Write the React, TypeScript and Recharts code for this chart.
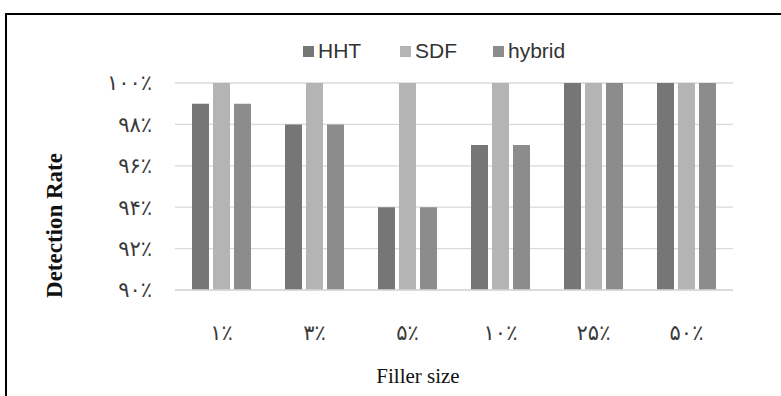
import React from 'react';
import { BarChart, Bar, XAxis, YAxis, CartesianGrid, Legend, Label } from 'recharts';

// Filler size categories (Persian numerals)
const categories = ['۱٪', '۳٪', '۵٪', '۱۰٪', '۲۵٪', '۵۰٪'];

// Detection rate per method, in percent
const hhtValues = [99, 98, 94, 97, 100, 100];
const sdfValues = [100, 100, 100, 100, 100, 100];
const hybridValues = [99, 98, 94, 97, 100, 100];

// Y axis ticks and their Persian labels
const yTicks = [90, 92, 94, 96, 98, 100];
const yTickLabels = ['۹۰٪', '۹۲٪', '۹۴٪', '۹۶٪', '۹۸٪', '۱۰۰٪'];

const seriesNames = ['HHT', 'SDF', 'hybrid'];
const seriesKeys = ['hht', 'sdf', 'hybrid'];
const seriesColors = ['#767676', '#b4b4b4', '#8c8c8c'];

const data = categories.map((c, i) => ({
  name: c,
  hht: hhtValues[i],
  sdf: sdfValues[i],
  hybrid: hybridValues[i],
}));

const serif = "'Liberation Serif', 'DejaVu Serif', 'DejaVu Sans', serif";
const legendFont = "'Liberation Sans Narrow', 'Liberation Sans', Arial, sans-serif";

const legendItemWidths = [97, 93, 80];

const renderLegend = () => (
  <div style={{ display: 'flex', alignItems: 'center', height: 22 }}>
    {seriesNames.map((n, i) => (
      <div key={n} style={{ display: 'flex', alignItems: 'center', width: legendItemWidths[i] }}>
        <span style={{ width: 11, height: 11, background: seriesColors[i], marginRight: 4, display: 'inline-block' }} />
        <span style={{ fontFamily: legendFont, fontSize: 21, color: '#333', lineHeight: '22px' }}>{n}</span>
      </div>
    ))}
  </div>
);

const yLabelFor = (v: number) => {
  const idx = yTicks.indexOf(v);
  return idx >= 0 ? yTickLabels[idx] : String(v);
};

export default function App() {
  return (
    <div style={{ position: 'absolute', left: 0, top: 0, width: 781, height: 396, overflow: 'hidden', background: '#fff' }}>
      <div
        style={{
          position: 'absolute',
          left: 5,
          top: 13,
          width: 900,
          height: 500,
          borderTop: '2px solid #000',
          borderLeft: '2px solid #000',
        }}
      />
      <BarChart
        width={781}
        height={396}
        data={data}
        margin={{ top: 83, right: 48, bottom: 76, left: 115 }}
        barSize={17}
        barGap={4}
        style={{ position: 'absolute', left: 0, top: 0 }}
      >
        <CartesianGrid vertical={false} stroke="#d9d9d9" strokeWidth={1.3} />
        <XAxis
          dataKey="name"
          height={30}
          axisLine={{ stroke: '#d9d9d9', strokeWidth: 1.3 }}
          tickLine={false}
          tickSize={0}
          tickMargin={35}
          interval={0}
          tick={{ fontFamily: serif, fontSize: 21, fill: '#3a3a3a' }}
        >
          <Label
            content={(props: any) => {
              const vb = props.viewBox || {};
              return (
                <text
                  x={vb.x + vb.width / 2 - 36}
                  y={383}
                  textAnchor="middle"
                  fontFamily={serif}
                  fontSize={21}
                  fill="#111"
                >
                  Filler size
                </text>
              );
            }}
          />
        </XAxis>
        <YAxis
          width={60}
          domain={[90, 100]}
          ticks={yTicks}
          interval={0}
          axisLine={false}
          tickLine={false}
          tickSize={0}
          tickMargin={23}
          tickFormatter={yLabelFor}
          tick={{ fontFamily: serif, fontSize: 21, fill: '#3a3a3a' }}
        >
          <Label
            content={(props: any) => {
              const vb = props.viewBox || {};
              const cx = vb.x - 61;
              const cy = vb.y + vb.height / 2 + 39;
              return (
                <text
                  x={cx}
                  y={cy}
                  transform={`rotate(-90 ${cx} ${cy})`}
                  textAnchor="middle"
                  dominantBaseline="central"
                  fontFamily={serif}
                  fontWeight="bold"
                  fontSize={23}
                  fill="#111"
                >
                  Detection Rate
                </text>
              );
            }}
          />
        </YAxis>
        <Legend
          layout="horizontal"
          verticalAlign="middle"
          align="center"
          content={renderLegend}
          wrapperStyle={{ position: 'absolute', left: 303, top: 40, width: 'auto', height: 22 }}
        />
        {seriesKeys.map((k, i) => (
          <Bar key={k} dataKey={k} name={seriesNames[i]} fill={seriesColors[i]} isAnimationActive={false} />
        ))}
      </BarChart>
    </div>
  );
}
